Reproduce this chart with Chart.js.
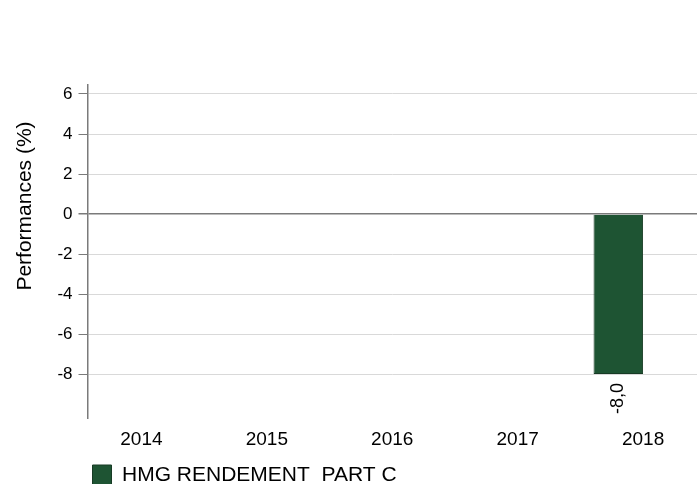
<!DOCTYPE html>
<html>
<head>
<meta charset="utf-8">
<script src="https://cdn.jsdelivr.net/npm/chart.js@4/dist/chart.umd.min.js"></script>
<style>
  html, body { margin: 0; padding: 0; background: #fff; overflow: hidden; }
  #wrap { width: 697px; height: 484px; position: relative; }
</style>
</head>
<body>
<div id="wrap"><canvas id="perf"></canvas></div>
<script>
// Annual performance, in percent
const categories = ['2014', '2015', '2016', '2017', '2018'];
const fundValues = [null, null, null, null, -8.0];
const benchmarkValues = [null, null, null, null, null];
const yTicks = [-8, -6, -4, -2, 0, 2, 4, 6];
const fundName = 'HMG RENDEMENT  PART C';
const benchmarkName = 'Indicateur de référence';
const yTitle = 'Performances (%)';

const FONT = '"Liberation Sans", Arial, sans-serif';
const GREEN = '#1e5433';
const AXIS_GREY = '#7a7a7a';

const toPoints = (vals) => categories.map((c, i) => ({ x: Number(c), y: vals[i] }));
const fmt = (v) => v.toFixed(1).replace('.', ',');

// Rotated value labels under (or above) each bar
const valueLabels = {
  id: 'valueLabels',
  afterDatasetsDraw(chart) {
    const ctx = chart.ctx;
    const meta = chart.getDatasetMeta(0);
    meta.data.forEach((bar, i) => {
      const v = fundValues[i];
      if (v === null || v === undefined) return;
      const below = v < 0;
      ctx.save();
      ctx.translate(bar.x, below ? bar.y + 9 : bar.y - 9);
      ctx.rotate(-Math.PI / 2);
      ctx.font = '18px ' + FONT;
      ctx.fillStyle = '#000';
      ctx.textAlign = below ? 'right' : 'left';
      ctx.textBaseline = 'middle';
      ctx.fillText(fmt(v), 0, 0);
      ctx.restore();
    });
  }
};

// Vertical axis caption
const axisCaption = {
  id: 'axisCaption',
  afterDraw(chart) {
    const ctx = chart.ctx;
    ctx.save();
    ctx.translate(30.5, 206);
    ctx.rotate(-Math.PI / 2);
    ctx.font = '21px ' + FONT;
    ctx.fillStyle = '#000';
    ctx.textAlign = 'center';
    ctx.textBaseline = 'alphabetic';
    ctx.fillText(yTitle, 0, 0);
    ctx.restore();
  }
};

new Chart(document.getElementById('perf'), {
  type: 'bar',
  data: {
    datasets: [
      {
        label: fundName,
        data: toPoints(fundValues),
        backgroundColor: GREEN,
        borderColor: '#173b25',
        borderWidth: 1,
        categoryPercentage: 0.79,
        barPercentage: 1.0
      },
      {
        label: benchmarkName,
        data: toPoints(benchmarkValues),
        backgroundColor: '#9aa5a0',
        categoryPercentage: 0.79,
        barPercentage: 1.0
      }
    ]
  },
  options: {
    responsive: true,
    maintainAspectRatio: false,
    animation: false,
    devicePixelRatio: 1,
    layout: { padding: { top: 85, left: 0, right: 0, bottom: -12 } },
    scales: {
      x: {
        type: 'linear',
        offset: false,
        min: Number(categories[0]) - 0.43,
        max: Number(categories[categories.length - 1]) + 0.43,
        afterBuildTicks: (s) => { s.ticks = categories.map((c) => ({ value: Number(c) })); },
        afterFit: (s) => { s.height = 42; },
        grid: { display: false, drawTicks: false, offset: false },
        border: { display: false },
        ticks: {
          autoSkip: false,
          maxRotation: 0,
          padding: 10,
          color: '#000',
          font: { family: FONT, size: 19 },
          callback: (v) => String(v)
        }
      },
      y: {
        min: -10.2,
        max: 6.45,
        afterBuildTicks: (s) => { s.ticks = yTicks.map((v) => ({ value: v })); },
        afterFit: (s) => { s.width = 87.5; },
        grid: {
          color: (c) => (c.tick && c.tick.value === 0 ? AXIS_GREY : '#d9d9d9'),
          lineWidth: (c) => (c.tick && c.tick.value === 0 ? 1.5 : 1),
          tickColor: AXIS_GREY,
          tickLength: 9,
          drawTicks: true
        },
        border: { display: true, color: AXIS_GREY, width: 1.5 },
        ticks: {
          padding: 6,
          color: '#000',
          font: { family: FONT, size: 17 },
          callback: (v) => String(v)
        }
      }
    },
    plugins: {
      legend: {
        position: 'bottom',
        align: 'start',
        fullSize: false,
        labels: {
          boxWidth: 19,
          boxHeight: 21,
          padding: 5,
          color: '#000',
          font: { family: FONT, size: 21 },
          filter: (item) => item.datasetIndex === 0
        }
      },
      tooltip: { enabled: false }
    }
  },
  plugins: [valueLabels, axisCaption]
});
</script>
</body>
</html>
